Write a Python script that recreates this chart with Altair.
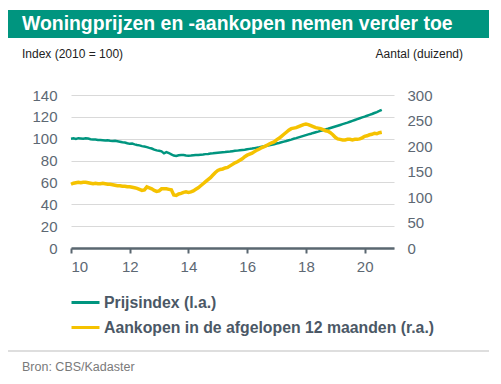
import altair as alt
import pandas as pd

# monthly observations, Jan 2010 .. Aug 2020
prijsindex = [
    100.0, 100.3, 99.8, 100.5, 100.2, 99.9, 100.4, 100.1, 99.6, 99.3, 99.2, 98.8,
    98.9, 98.6, 98.3, 98.5, 98.2, 98.0, 98.1, 97.7, 97.3, 96.8, 96.5, 95.8,
    95.3, 95.5, 94.8, 94.2, 93.9, 93.2, 92.8, 92.3, 91.6, 91.0, 90.0, 89.3,
    88.9, 88.4, 86.6, 87.8, 86.9, 85.6, 84.6, 84.3, 84.9, 85.2, 85.0, 84.6,
    84.5, 84.6, 84.8, 85.0, 85.2, 85.4, 85.6, 85.9, 86.1, 86.4, 86.6, 86.9,
    87.2, 87.4, 87.6, 87.8, 88.1, 88.3, 88.6, 88.9, 89.1, 89.4, 89.7, 90.0,
    90.4, 90.7, 91.0, 91.4, 91.8, 92.2, 92.7, 93.1, 93.6, 94.0, 94.5, 95.0,
    95.6, 96.1, 96.7, 97.3, 97.9, 98.6, 99.2, 99.9, 100.5, 101.2, 101.9, 102.6,
    103.3, 104.0, 104.6, 105.3, 105.9, 106.5, 107.2, 107.8, 108.5, 109.1, 109.8, 110.5,
    111.2, 111.9, 112.6, 113.3, 114.0, 114.7, 115.5, 116.3, 117.1, 117.9, 118.7, 119.5,
    120.2, 121.0, 121.8, 122.6, 123.5, 124.4, 125.4, 126.5,
]
aankopen = [
    125, 127, 128, 129, 128, 129, 129, 128, 127, 126, 127, 126,
    126, 127, 126, 125, 125, 124, 123, 122, 122, 121, 121, 120,
    120, 119, 118, 117, 115, 113, 114, 120, 118, 116, 113, 111,
    112, 116, 116, 116, 115, 114, 104, 103, 106, 107, 109, 110,
    109, 110, 112, 115, 118, 122, 126, 130, 134, 138, 143, 148,
    152, 154, 155, 157, 158, 161, 164, 167, 169, 172, 175, 179,
    182, 184, 186, 189, 192, 194, 197, 199, 201, 204, 206, 208,
    212, 215, 219, 223, 227, 231, 234, 235, 236, 238, 240, 242,
    243, 242, 240, 238, 236, 235, 234, 232, 230, 229, 226, 222,
    217, 214, 213, 212, 212, 213, 213, 212, 213, 213, 214, 216,
    219, 220, 222, 223, 225, 224, 226, 227,
]
series_names = ["Prijsindex (l.a.)", "Aankopen in de afgelopen 12 maanden (r.a.)"]
x_ticks = [10, 12, 14, 16, 18, 20]
left_ticks = [0, 20, 40, 60, 80, 100, 120, 140]
right_ticks = [0, 50, 100, 150, 200, 250, 300]

TEAL = "#00957f"
YELLOW = "#f5c200"
AXIS_TXT = "#5d6873"
LEG_TXT = "#4b5866"

t = [10 + i / 12 for i in range(len(prijsindex))]
df = pd.DataFrame(
    {"t": t * 2,
     "serie": [series_names[0]] * len(t) + [series_names[1]] * len(t),
     "waarde": prijsindex + aankopen}
)

W, H = 323, 153
x_enc = alt.X("t:Q", scale=alt.Scale(domain=[10, 21], nice=False, zero=False),
              axis=alt.Axis(values=x_ticks, title=None, grid=False, domain=True,
                            domainColor="#5a6770", domainWidth=2.5, ticks=True,
                            tickColor="#5a6770", tickWidth=2, tickSize=5,
                            labelFontSize=15, labelColor=AXIS_TXT, labelPadding=6,
                            labelFont="Liberation Sans"))
color_enc = alt.Color("serie:N",
                      scale=alt.Scale(domain=series_names, range=[TEAL, YELLOW]),
                      legend=alt.Legend(title=None, orient="none", legendX=6, legendY=199,
                                        direction="vertical",
                                        symbolType="M-2,0L2,0", symbolSize=196,
                                        symbolStrokeWidth=3,
                                        labelFont="Liberation Sans", labelFontSize=15.8,
                                        labelFontWeight="bold", labelColor=LEG_TXT,
                                        labelOffset=10, rowPadding=8, labelLimit=400))

base = alt.Chart(df)
left = base.transform_filter(alt.datum.serie == series_names[0]).mark_line(
    strokeWidth=2.5).encode(
    x=x_enc,
    y=alt.Y("waarde:Q", scale=alt.Scale(domain=[0, 140], nice=False),
            axis=alt.Axis(values=left_ticks, title=None, orient="left", domain=False,
                          ticks=False, grid=True, gridColor="#d9d9d9", gridWidth=1,
                          labelFontSize=15, labelColor=AXIS_TXT, labelPadding=14,
                          labelFont="Liberation Sans")),
    color=color_enc,
)
right = base.transform_filter(alt.datum.serie == series_names[1]).mark_line(
    strokeWidth=3.5).encode(
    x=x_enc,
    y=alt.Y("waarde:Q", scale=alt.Scale(domain=[0, 300], nice=False),
            axis=alt.Axis(values=right_ticks, title=None, orient="right", domain=False,
                          ticks=False, grid=False,
                          labelFontSize=15, labelColor=AXIS_TXT, labelPadding=13,
                          labelFont="Liberation Sans")),
    color=color_enc,
)

deco = alt.Chart(pd.DataFrame({"k": [0]}))
band = deco.mark_rect(color=TEAL).encode(
    x=alt.value(-63), x2=alt.value(419), y=alt.value(-85), y2=alt.value(-57))
title = deco.mark_text(align="left", baseline="middle", font="Liberation Sans",
                       fontSize=19.4, fontWeight="bold", color="white").encode(
    x=alt.value(-49), y=alt.value(-71), text=alt.value("Woningprijzen en -aankopen nemen verder toe"))
sub_l = deco.mark_text(align="left", baseline="middle", font="Liberation Sans",
                       fontSize=12, color="#222222").encode(
    x=alt.value(-49), y=alt.value(-41), text=alt.value("Index (2010 = 100)"))
sub_r = deco.mark_text(align="right", baseline="middle", font="Liberation Sans",
                       fontSize=12, color="#222222").encode(
    x=alt.value(392), y=alt.value(-41), text=alt.value("Aantal (duizend)"))
sep = deco.mark_rule(color="#bdbdbd", strokeWidth=1).encode(
    x=alt.value(-63), x2=alt.value(419), y=alt.value(256))
bron = deco.mark_text(align="left", baseline="middle", font="Liberation Sans",
                      fontSize=12.5, color="#7a7a7a").encode(
    x=alt.value(-49), y=alt.value(272), text=alt.value("Bron: CBS/Kadaster"))

chart = alt.layer(left, right, band, title, sub_l, sub_r, sep, bron).resolve_scale(
    y="independent").properties(
    width=W, height=H,
    autosize=alt.AutoSizeParams(type="none"),
    padding={"left": 63, "top": 87, "right": 95, "bottom": 126},
    background="white",
).configure_view(stroke=None)

chart.save("out.html", embed_options={"renderer": "svg", "actions": False})
